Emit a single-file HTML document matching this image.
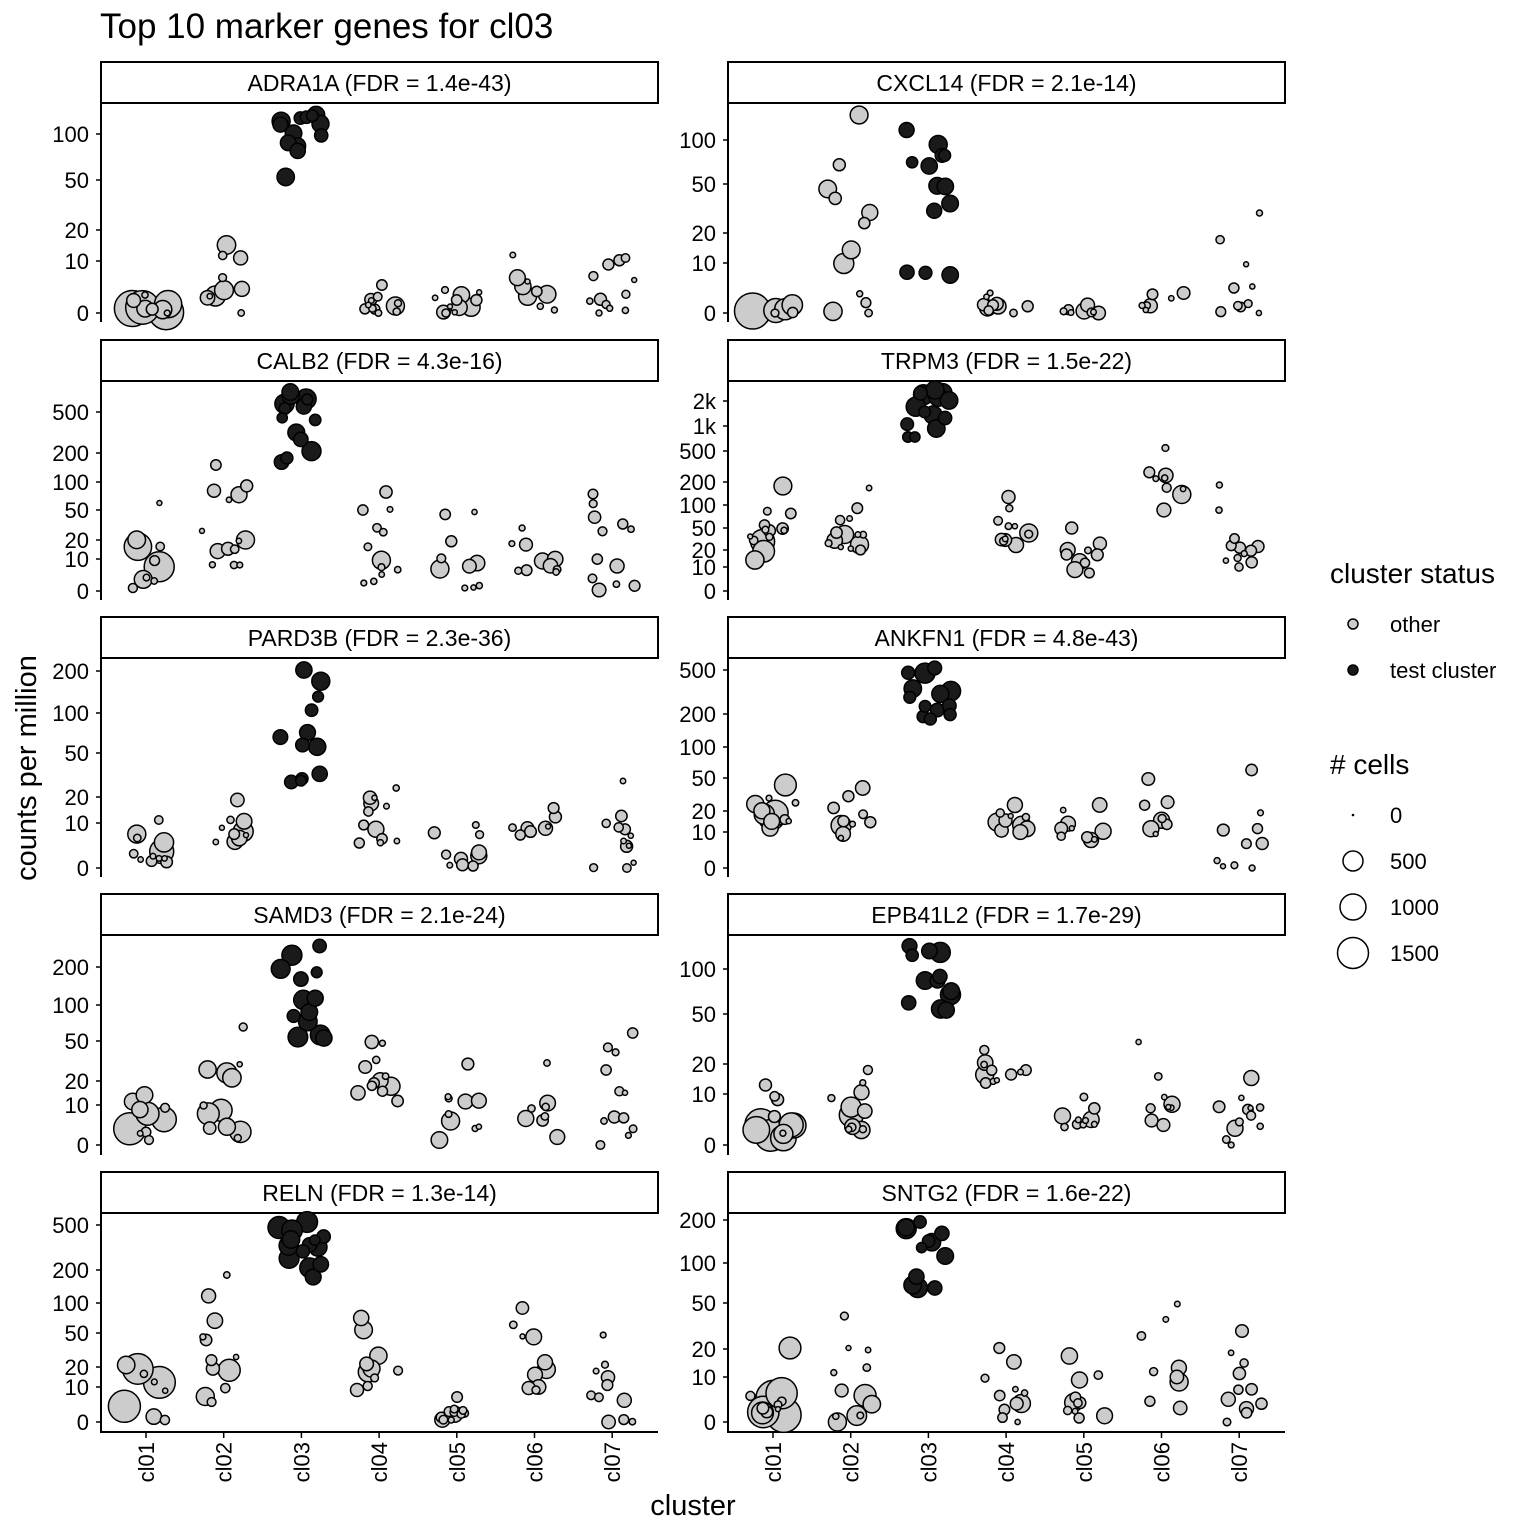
<!DOCTYPE html>
<html><head><meta charset="utf-8">
<style>
html,body{margin:0;padding:0;background:#fff;}
svg{display:block;font-family:"Liberation Sans",sans-serif;}
</style></head>
<body>
<svg id="s" xmlns="http://www.w3.org/2000/svg" width="1536" height="1536" viewBox="0 0 1536 1536">
<rect width="1536" height="1536" fill="#fff"/>
<text x="100" y="38" font-size="35" fill="#000">Top 10 marker genes for cl03</text>
<text transform="translate(36,768) rotate(-90)" text-anchor="middle" font-size="29">counts per million</text>
<text x="693" y="1515" text-anchor="middle" font-size="29">cluster</text>
<text x="1330" y="583" font-size="28">cluster status</text>
<circle cx="1353" cy="624" r="5" fill="#cccccc" stroke="#000" stroke-width="1.5"/>
<text x="1390" y="632" font-size="22">other</text>
<circle cx="1353" cy="670" r="5" fill="#1a1a1a" stroke="#000" stroke-width="1.5"/>
<text x="1390" y="678" font-size="22">test cluster</text>
<text x="1330" y="774" font-size="28"># cells</text>
<circle cx="1353" cy="815" r="1.3" fill="#000"/>
<text x="1390" y="823" font-size="22">0</text>
<circle cx="1353" cy="861" r="10" fill="none" stroke="#000" stroke-width="1.5"/>
<text x="1390" y="869" font-size="22">500</text>
<circle cx="1353" cy="907" r="13" fill="none" stroke="#000" stroke-width="1.5"/>
<text x="1390" y="915" font-size="22">1000</text>
<circle cx="1353" cy="953" r="15.5" fill="none" stroke="#000" stroke-width="1.5"/>
<text x="1390" y="961" font-size="22">1500</text>
<g id="g"></g>
</svg>
<script>
var NS="http://www.w3.org/2000/svg",g=document.getElementById("g");
function el(t,a,txt){var e=document.createElementNS(NS,t);for(var k in a)e.setAttribute(k,a[k]);if(txt!==undefined)e.textContent=txt;g.appendChild(e);return e;}
var seed=777;function rnd(){seed=(seed*16807)%2147483647;return (seed-1)/2147483646;}
var rows=[[62,103,322],[340,381,600],[617,658,877],[894,935,1155],[1172,1213,1432]];
var P=[
["ADRA1A (FDR = 1.4e-43)",[["100",134],["50",180],["20",230],["10",261],["0",313]],
[[295,313,10,18],[245,313,10,10],[115,177,13,9],[285,313,12,9],[290,313,12,9],[255,310,9,9],[258,313,12,6]]],
["CXCL14 (FDR = 2.1e-14)",[["100",140],["50",184],["20",233],["10",263],["0",313]],
[[305,313,6,18],[115,313,12,10],[130,275,13,9],[293,313,10,8],[305,313,8,8],[293,310,7,7],[213,313,10,5]]],
["CALB2 (FDR = 4.3e-16)",[["500",412],["200",453],["100",482],["50",510],["20",540],["10",559],["0",591]],
[[503,588,10,15],[465,565,14,9],[392,462,14,10],[492,583,12,9],[512,588,10,9],[528,572,10,8],[494,590,12,7]]],
["TRPM3 (FDR = 1.5e-22)",[["2k",401],["1k",426],["500",451],["200",482],["100",505],["50",528],["20",550],["10",567],["0",591]],
[[486,560,14,12],[488,550,14,9],[390,437,14,10],[497,545,12,9],[528,573,10,8],[448,510,9,9],[485,567,12,6]]],
["PARD3B (FDR = 2.3e-36)",[["200",671],["100",713],["50",753],["20",797],["10",823],["0",868]],
[[820,862,12,12],[800,842,10,10],[670,782,12,9],[788,843,12,8],[825,866,10,8],[808,835,8,7],[781,868,12,6]]],
["ANKFN1 (FDR = 4.8e-43)",[["500",670],["200",714],["100",747],["50",778],["20",811],["10",832],["0",868]],
[[785,828,12,13],[788,838,10,10],[668,719,13,10],[805,832,10,9],[805,840,10,8],[779,834,8,8],[770,868,10,6]]],
["SAMD3 (FDR = 2.1e-24)",[["200",967],["100",1005],["50",1041],["20",1081],["10",1105],["0",1145]],
[[1095,1140,10,16],[1027,1138,12,11],[946,1038,13,10],[1042,1101,12,9],[1064,1140,10,9],[1063,1137,8,8],[1033,1145,12,6]]],
["EPB41L2 (FDR = 1.7e-29)",[["100",969],["50",1014],["20",1064],["10",1094],["0",1145]],
[[1085,1138,12,16],[1070,1130,12,12],[946,1010,12,10],[1050,1083,11,9],[1097,1127,10,8],[1042,1125,9,8],[1078,1145,12,8]]],
["RELN (FDR = 1.3e-14)",[["500",1225],["200",1270],["100",1303],["50",1333],["20",1367],["10",1387],["0",1422]],
[[1365,1420,9,16],[1275,1402,12,11],[1222,1277,14,11],[1318,1390,10,10],[1397,1420,12,8],[1308,1390,10,9],[1335,1422,11,7]]],
["SNTG2 (FDR = 1.6e-22)",[["200",1220],["100",1263],["50",1303],["20",1349],["10",1377],["0",1422]],
[[1348,1415,12,18],[1316,1422,12,11],[1222,1288,12,10],[1348,1422,11,9],[1356,1418,11,9],[1304,1408,9,9],[1331,1422,11,7]]]
];
for(var i=0;i<10;i++){
 var p=P[i],r=rows[Math.floor(i/2)],col=i%2,x0=col?728:101,x1=col?1285:658,off=col?627:0;
 el("rect",{x:x0,y:r[0],width:x1-x0,height:r[1]-r[0],fill:"#fff",stroke:"#000","stroke-width":2});
 el("text",{x:(x0+x1)/2,y:r[0]+29,"text-anchor":"middle","font-size":23},p[0]);
 el("line",{x1:x0,y1:r[1],x2:x0,y2:r[2],stroke:"#000","stroke-width":2});
 p[1].forEach(function(t){
  el("line",{x1:x0-5,y1:t[1],x2:x0,y2:t[1],stroke:"#000","stroke-width":1.5});
  el("text",{x:x0-12,y:t[1]+8,"text-anchor":"end","font-size":22},t[0]);
 });
 var last=Math.floor(i/2)==4;
 if(last){el("line",{x1:x0-1,y1:r[2],x2:x1,y2:r[2],stroke:"#000","stroke-width":2});}
 for(var c=0;c<7;c++){
  var cx=146+77.7*c+off,gr=p[2][c],blk=(c==2);
  if(last){
   el("line",{x1:cx,y1:r[2],x2:cx,y2:r[2]+6,stroke:"#000","stroke-width":1.5});
   el("text",{transform:"translate("+(cx+8)+","+(r[2]+10)+") rotate(-90)","text-anchor":"end","font-size":22},"cl0"+(c+1));
  }
  var pts=[];
  for(var k=0;k<gr[2];k++){
   var rad=(k==0)?gr[3]:(blk?5+rnd()*(gr[3]-5):2.5+Math.pow(rnd(),1.6)*(gr[3]-2.5));
   var f=blk?rnd():Math.sqrt(rnd());
   var y=gr[0]+f*(gr[1]-gr[0]);
   if(k==0)y=gr[0]+(gr[1]-gr[0])*(blk?0.1:0.75);
   if(k==1)y=gr[1];if(k==2)y=gr[0];
   var x=cx+(rnd()-0.5)*46;
   pts.push([x,y,rad]);
  }
  pts.sort(function(a,b){return b[2]-a[2];});
  pts.forEach(function(q){
   el("circle",{cx:q[0].toFixed(1),cy:q[1].toFixed(1),r:q[2].toFixed(1),fill:blk?"#1a1a1a":"#cccccc",stroke:"#000","stroke-width":1.5});
  });
 }
}
</script>
</body></html>
